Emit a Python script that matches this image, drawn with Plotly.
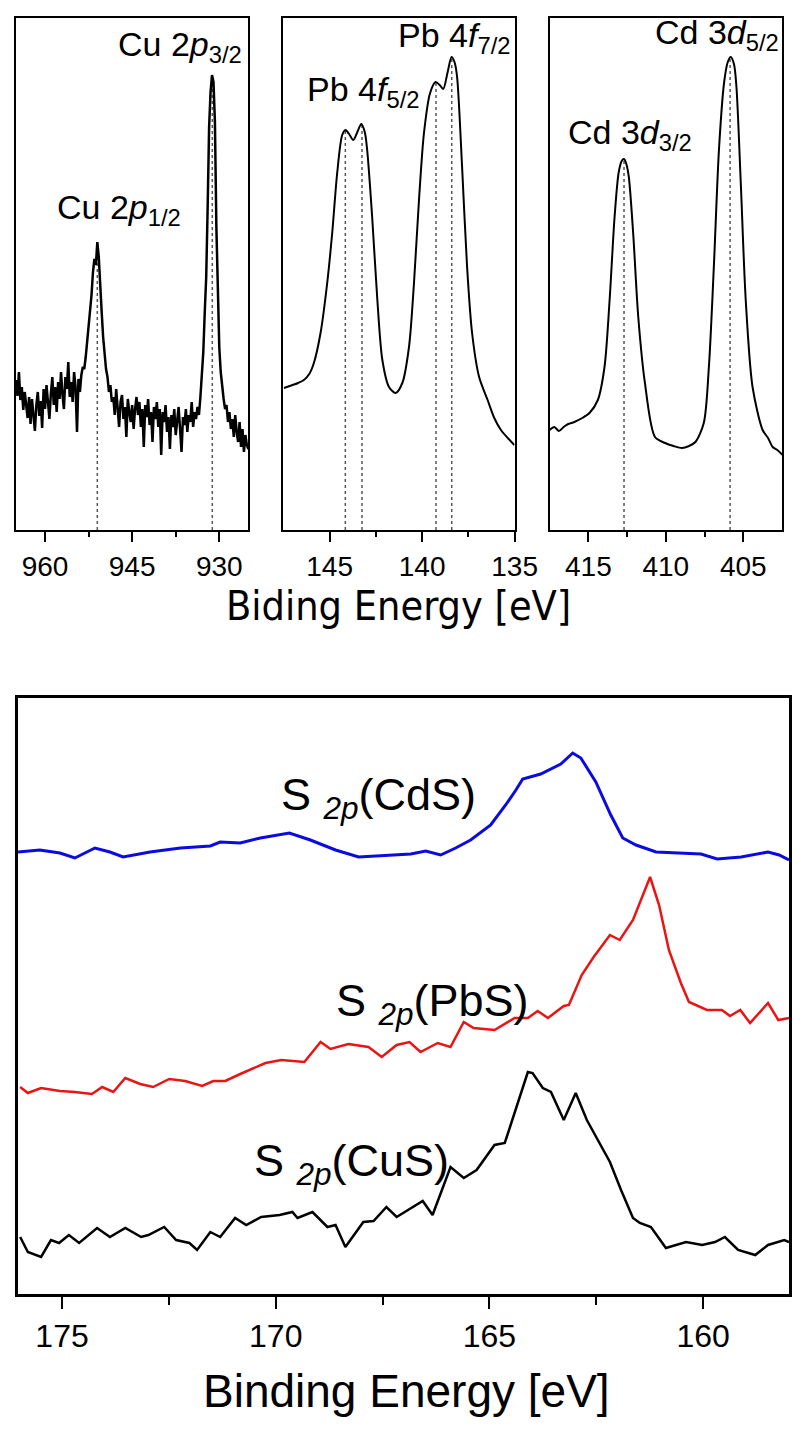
import plotly.graph_objects as go

W, H = 802, 1430
LAYOUT_W = 826

# ---------------- Top row: core-level spectra (intensity in arbitrary units) ----------------
CU_START_BE = 965.0
CU_STEP_BE = 0.25
CU_COUNTS = [
    150, 134, 158, 130, 143, 120, 138, 127, 112, 133,
    106, 131, 118, 99, 125, 138, 114, 129, 102, 141,
    121, 145, 128, 111, 136, 153, 125, 143, 118, 148,
    131, 158, 135, 121, 153, 141, 168, 133, 148, 128,
    158, 143, 98, 151, 138, 155, 163, 161, 173, 188,
    203, 218, 235, 258, 271, 265, 288, 273, 251, 218,
    193, 175, 161, 153, 138, 145, 128, 133, 115, 141,
    121, 103, 128, 135, 111, 123, 93, 131, 118, 108,
    125, 101, 121, 133, 115, 128, 103, 121, 83, 125,
    113, 131, 105, 118, 88, 123, 111, 128, 103, 121,
    75, 118, 108, 125, 98, 113, 81, 115, 103, 121,
    95, 111, 123, 101, 78, 113, 105, 121, 98, 115,
    108, 128, 103, 118, 111, 123, 115, 133, 153, 178,
    218, 253, 323, 403, 438, 455, 448, 408, 303, 228,
    183, 158, 141, 131, 121, 125, 108, 118, 101, 111,
    93, 115, 98, 88, 108, 83, 101, 78, 95, 85,
    81,
]
CU_BE = [round(CU_START_BE - CU_STEP_BE * k, 2) for k in range(len(CU_COUNTS))]
CU_PEAK_BE = [951.0, 931.2]
CU_PEAK_I = [288, 455]

PB_BE = [147.47, 147.0, 146.7, 146.39, 146.1, 145.85, 145.49, 145.13, 144.86, 144.59,
         144.32, 144.14, 143.95, 143.72, 143.5, 143.29, 143.1, 142.97, 142.70, 142.42,
         142.15, 141.79, 141.43, 141.07, 140.71, 140.44, 140.17, 139.90, 139.57, 139.27,
         139.05, 138.86, 138.62, 138.41, 138.25, 138.11, 137.84, 137.57, 137.30, 136.92,
         136.46, 136.1, 135.74, 135.02]
PB_I = [142, 145, 147, 150, 156, 167, 197, 247, 297, 357,
        395, 400, 396, 390, 398, 406, 398, 380, 313, 230,
        170, 143, 137, 147, 183, 247, 330, 397, 437, 448,
        445, 441, 458, 473, 468, 453, 363, 263, 197, 153,
        130, 112, 100, 85]
PB_PEAK_BE = [144.15, 143.25, 139.25, 138.4]
PB_PEAK_I = [400, 406, 448, 473]

CD_BE = [417.5, 417.2, 416.9, 416.6, 416.3, 415.91, 415.4, 414.93, 414.39, 413.96,
         413.63, 413.31, 413.05, 412.85, 412.7, 412.55, 412.39, 412.11, 411.78, 411.35,
         410.70, 410.05, 409.5, 408.96, 408.5, 408.09, 407.55, 407.22, 406.90, 406.57,
         406.24, 406.0, 405.81, 405.6, 405.44, 405.16, 404.84, 404.40, 403.75, 403.4,
         403.1, 402.8, 402.45]
CD_I = [100, 103, 99, 103, 106, 108, 112, 117, 130, 163,
        230, 313, 357, 369, 371, 366, 353, 297, 213, 147,
        93, 87, 84, 82, 84, 88, 107, 163, 263, 380,
        447, 468, 473, 466, 443, 347, 230, 143, 100, 92,
        83, 80, 75]
CD_PEAK_BE = [412.7, 405.85]
CD_PEAK_I = [371, 473]

CU_TICKS = [960, 945, 930]
CU_MINOR = [952.5, 937.5]
PB_TICKS = [145, 140, 135]
PB_MINOR = [142.5, 137.5]
CD_TICKS = [415, 410, 405]
CD_MINOR = [412.5, 407.5]

# ---------------- Bottom: S 2p spectra ----------------
S_CDS_BE = [176.03, 175.52, 175.05, 174.70, 174.23, 173.88, 173.57, 172.94, 172.23, 171.53,
            171.30, 170.83, 170.36, 169.68, 169.19, 168.60, 168.06, 167.55, 166.84, 166.49,
            166.14, 165.79, 165.44, 164.97, 164.62, 164.38, 164.22, 163.80, 163.33, 163.05,
            162.86, 162.51, 162.16, 161.88, 161.57, 161.10, 160.52, 160.05, 159.67, 159.11,
            158.48, 158.22, 157.99]
S_CDS_I = [442, 444, 441, 436, 446, 442, 437, 442, 446, 448,
           452, 451, 456, 461, 454, 444, 437, 438, 440, 443,
           439, 446, 454, 469, 489, 504, 515, 520, 530, 541,
           536, 512, 479, 456, 449, 442, 441, 440, 435, 437,
           442, 439, 434]

S_PBS_BE = [175.98, 175.80, 175.49, 175.05, 174.70, 174.30, 174.06, 173.80, 173.52, 173.17,
            172.87, 172.49, 172.12, 171.72, 171.46, 171.18, 170.83, 170.57, 170.24, 169.87,
            169.33, 168.95, 168.72, 168.30, 167.83, 167.52, 167.17, 166.87, 166.61, 166.21,
            165.91, 165.60, 165.37, 164.88, 164.41, 164.10, 163.87, 163.63, 163.26, 163.14,
            162.84, 162.56, 162.18, 161.95, 161.64, 161.24, 161.03, 160.80, 160.52, 160.33,
            159.91, 159.56, 159.37, 159.13, 158.90, 158.48, 158.24, 157.99]
S_PBS_I = [207, 201, 206, 203, 202, 200, 207, 202, 216, 210,
           207, 215, 213, 208, 213, 213, 220, 225, 231, 234,
           232, 252, 245, 250, 247, 237, 249, 252, 242, 251,
           247, 272, 266, 264, 276, 276, 283, 276, 288, 289,
           319, 337, 359, 354, 374, 417, 389, 344, 311, 292,
           284, 284, 278, 284, 271, 291, 274, 276]

S_CUS_BE = [175.98, 175.80, 175.49, 175.26, 175.07, 174.84, 174.60, 174.18, 173.88, 173.52,
            173.15, 172.98, 172.61, 172.33, 172.02, 171.84, 171.53, 171.30, 170.95, 170.69,
            170.34, 169.91, 169.61, 169.49, 169.14, 168.79, 168.60, 168.37, 167.95, 167.71,
            167.41, 167.17, 166.56, 166.33, 165.91, 165.60, 165.30, 164.88, 164.64, 164.36,
            164.10, 163.99, 163.75, 163.56, 163.26, 162.98, 162.72, 162.18, 161.92, 161.64,
            161.48, 161.22, 160.87, 160.40, 160.02, 159.72, 159.49, 159.18, 158.78, 158.48,
            158.10, 157.99]
S_CUS_I = [57, 42, 37, 54, 51, 59, 51, 66, 57, 66,
           57, 59, 67, 54, 51, 44, 62, 57, 76, 69,
           77, 79, 82, 76, 82, 67, 69, 47, 72, 73,
           87, 77, 93, 79, 127, 116, 124, 149, 151, 189,
           222, 221, 206, 202, 174, 201, 174, 132, 104, 76,
           71, 67, 46, 52, 49, 52, 57, 44, 39, 49,
           54, 52]

S_TICKS = [175, 170, 165, 160]
S_MINOR = [172.5, 167.5, 162.5]

# ---------------- Figure ----------------
def px(x):
    return x / W


def py(y):
    return 1 - y / H


TOP_TICK_FONT = "Liberation Sans Narrow, Arial Narrow, Liberation Sans, Arial"
ARIAL = "Liberation Sans, Arial, Helvetica"

fig = go.Figure()


def dotted(bes, peaks, xa, ya):
    xs, ys = [], []
    for b, p in zip(bes, peaks):
        xs += [b, b, None]
        ys += [0, p, None]
    return go.Scatter(x=xs, y=ys, mode="lines", xaxis=xa, yaxis=ya,
                      line=dict(color="#555555", width=1.5, dash="dot"),
                      hoverinfo="skip")


fig.add_trace(dotted(CU_PEAK_BE, CU_PEAK_I, "x", "y"))
fig.add_trace(go.Scatter(x=CU_BE, y=CU_COUNTS, mode="lines", xaxis="x", yaxis="y",
                         line=dict(color="black", width=2.5)))
fig.add_trace(dotted(PB_PEAK_BE, PB_PEAK_I, "x2", "y2"))
fig.add_trace(go.Scatter(x=PB_BE, y=PB_I, mode="lines", xaxis="x2", yaxis="y2",
                         line=dict(color="black", width=2, shape="spline", smoothing=0.8)))
fig.add_trace(dotted(CD_PEAK_BE, CD_PEAK_I, "x3", "y3"))
fig.add_trace(go.Scatter(x=CD_BE, y=CD_I, mode="lines", xaxis="x3", yaxis="y3",
                         line=dict(color="black", width=2, shape="spline", smoothing=0.8)))

fig.add_trace(go.Scatter(x=S_CDS_BE, y=S_CDS_I, mode="lines", xaxis="x4", yaxis="y4",
                         line=dict(color="rgb(10,10,225)", width=3)))
fig.add_trace(go.Scatter(x=S_PBS_BE, y=S_PBS_I, mode="lines", xaxis="x4", yaxis="y4",
                         line=dict(color="rgb(235,20,20)", width=2.5)))
fig.add_trace(go.Scatter(x=S_CUS_BE, y=S_CUS_I, mode="lines", xaxis="x4", yaxis="y4",
                         line=dict(color="black", width=2.5)))


def xax(dom, rng, ticks, minor, anchor, fsize, family, tlen, mlen, lw=2):
    return dict(domain=dom, range=rng, anchor=anchor, showline=True, mirror=True,
                linecolor="black", linewidth=lw, ticks="outside", ticklen=tlen,
                tickwidth=2, tickcolor="black", tickmode="array", tickvals=ticks,
                ticktext=[str(t) for t in ticks],
                tickfont=dict(size=fsize, family=family, color="black"),
                showgrid=False, zeroline=False,
                minor=dict(tickmode="array", tickvals=minor, ticks="outside",
                           ticklen=mlen, tickwidth=2, tickcolor="black", showgrid=False))


def yax(dom, rng, anchor, lw=2):
    return dict(domain=dom, range=rng, anchor=anchor, showline=True, mirror=True,
                linecolor="black", linewidth=lw, ticks="", showticklabels=False,
                showgrid=False, zeroline=False)


top_dom_y = [py(530), py(18)]
bot_dom_y = [py(1294), py(698)]

fig.update_layout(
    width=LAYOUT_W, height=H, autosize=False, margin=dict(l=0, r=0, t=0, b=0),
    paper_bgcolor="white", plot_bgcolor="white", showlegend=False,
    xaxis=xax([px(16), px(248)], [965, 925], CU_TICKS, CU_MINOR, "y", 28, TOP_TICK_FONT, 10, 5),
    yaxis=yax(top_dom_y, [0, 512], "x"),
    xaxis2=xax([px(283), px(514)], [147.5, 135], PB_TICKS, PB_MINOR, "y2", 28, TOP_TICK_FONT, 10, 5),
    yaxis2=yax(top_dom_y, [0, 512], "x2"),
    xaxis3=xax([px(549), px(781)], [417.5, 402.5], CD_TICKS, CD_MINOR, "y3", 28, TOP_TICK_FONT, 10, 5),
    yaxis3=yax(top_dom_y, [0, 512], "x3"),
    xaxis4=xax([px(18), px(788)], [176.03, 157.99], S_TICKS, S_MINOR, "y4", 32, ARIAL, 12, 8, lw=2.5),
    yaxis4=yax(bot_dom_y, [0, 596], "x4", lw=2.5),
)


def ann(text, x, y, size, family, xanchor="left", yanchor="top"):
    return dict(text=text, x=px(x), y=py(y), xref="paper", yref="paper",
                showarrow=False, xanchor=xanchor, yanchor=yanchor,
                font=dict(size=size, family=family, color="black"))


annotations = [
    ann("Cu 2<i>p</i><sub>3/2</sub>", 116, 23, 34, ARIAL),
    ann("Cu 2<i>p</i><sub>1/2</sub>", 55, 186, 34, ARIAL),
    ann("Pb 4<i>f</i><sub>5/2</sub>", 305, 68, 34, ARIAL),
    ann("Pb 4<i>f</i><sub>7/2</sub>", 396, 14, 34, ARIAL),
    ann("Cd 3<i>d</i><sub>3/2</sub>", 565, 111, 34, ARIAL),
    ann("Cd 3<i>d</i><sub>5/2</sub>", 652, 11, 34, ARIAL),
    ann("Biding Energy [eV]", 398, 580, 41, "DejaVu Sans Condensed, DejaVu Sans", xanchor="center"),
    ann("S <sub><i>2p</i></sub>(CdS)", 279, 767, 45, ARIAL),
    ann("S <sub><i>2p</i></sub>(PbS)", 334, 973, 45, ARIAL),
    ann("S <sub><i>2p</i></sub>(CuS)", 252, 1133, 45, ARIAL),
    ann("Binding Energy [eV]", 406, 1363, 46, ARIAL, xanchor="center"),
]
fig.update_layout(annotations=annotations)

fig.write_html("out.html",
               config={"displayModeBar": False, "responsive": False},
               post_script="document.body.style.margin='0';document.body.style.overflow='hidden';")
